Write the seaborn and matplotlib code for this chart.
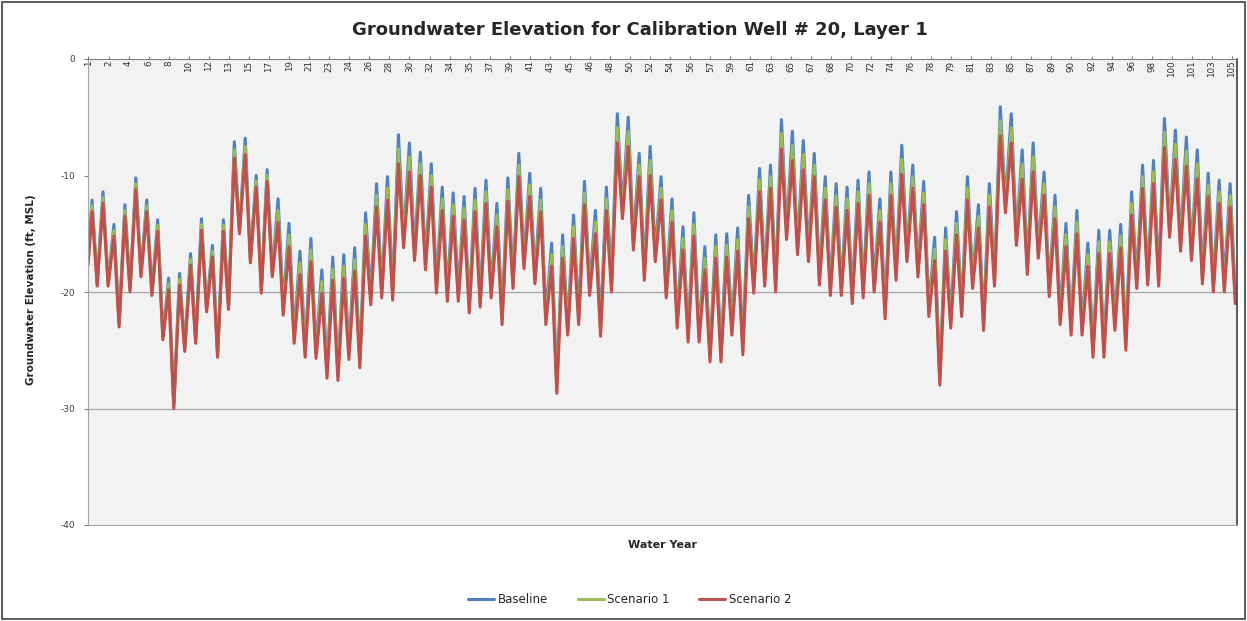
import numpy as np
import pandas as pd
import seaborn as sns
import matplotlib.pyplot as plt
from matplotlib.patches import Rectangle

# groundwater elevation, ft MSL: one high and one low per water year
series_names = ['Baseline', 'Scenario 1', 'Scenario 2']
series_colors = ['#4F81BD', '#9BBB59', '#C0504D']
start_level = [-17.3, -17.5, -17.7]

base_peak = [-12.1, -11.4, -14.2, -12.5, -10.2, -12.1, -13.8, -18.8, -18.4, -16.7,
             -13.7, -16.0, -13.8, -7.1, -6.8, -10.0, -9.5, -12.0, -14.1, -16.5,
             -15.4, -18.1, -17.0, -16.8, -16.2, -13.2, -10.7, -10.1, -6.5, -7.2,
             -8.0, -9.0, -11.0, -11.5, -11.8, -11.1, -10.4, -12.4, -10.2, -8.1,
             -9.8, -11.1, -15.8, -15.1, -13.4, -10.5, -13.0, -11.0, -4.7, -5.0,
             -8.1, -7.5, -10.1, -12.0, -14.4, -13.2, -16.1, -15.1, -15.0, -14.5,
             -11.7, -9.4, -9.1, -5.2, -6.2, -7.0, -8.1, -10.1, -10.7, -11.0,
             -10.4, -9.7, -12.0, -9.7, -7.4, -9.1, -10.5, -15.3, -14.5, -13.1,
             -10.1, -12.5, -10.7, -4.1, -4.7, -7.8, -7.2, -9.7, -11.7, -14.1,
             -13.0, -15.8, -14.7, -14.7, -14.2, -11.4, -9.1, -8.7, -5.1, -6.1,
             -6.7, -7.8, -9.8, -10.4, -10.7]
base_low = [-19.1, -19.1, -22.6, -19.6, -18.3, -19.9, -23.7, -29.6, -24.7, -24.0,
            -21.3, -25.2, -21.1, -14.6, -17.1, -19.7, -18.3, -21.2, -23.6, -24.8,
            -24.9, -26.6, -26.8, -25.0, -25.7, -20.3, -19.7, -19.9, -15.4, -16.5,
            -17.3, -19.3, -20.0, -20.0, -21.0, -20.5, -19.7, -22.0, -18.9, -17.2,
            -18.5, -22.0, -27.9, -22.9, -22.0, -19.5, -23.0, -19.2, -12.9, -15.6,
            -18.2, -16.6, -19.7, -22.3, -23.5, -23.5, -25.2, -25.2, -22.9, -24.6,
            -19.3, -18.7, -19.2, -14.7, -16.0, -16.6, -18.6, -19.5, -19.5, -20.2,
            -19.7, -19.2, -21.5, -18.2, -16.6, -17.9, -21.3, -27.2, -22.3, -21.3,
            -18.9, -22.5, -18.7, -12.4, -15.2, -17.7, -16.3, -19.6, -22.0, -22.9,
            -22.9, -24.8, -24.8, -22.5, -24.2, -18.9, -18.6, -18.7, -14.5, -15.7,
            -16.5, -18.5, -19.2, -19.2, -20.2]

sc1_peak = [-12.6, -11.9, -14.7, -13.0, -10.7, -12.6, -14.3, -19.3, -18.9, -17.2,
            -14.2, -16.5, -14.3, -7.8, -7.5, -10.5, -10.0, -13.0, -15.1, -17.5,
            -16.4, -19.1, -18.0, -17.8, -17.2, -14.2, -11.7, -11.1, -7.7, -8.4,
            -9.0, -10.0, -12.0, -12.5, -12.8, -12.1, -11.4, -13.4, -11.2, -9.1,
            -10.8, -12.1, -16.8, -16.1, -14.4, -11.5, -14.0, -12.0, -5.9, -6.2,
            -9.1, -8.7, -11.1, -13.0, -15.4, -14.2, -17.1, -16.1, -16.0, -15.5,
            -12.7, -10.4, -10.1, -6.4, -7.4, -8.2, -9.1, -11.1, -11.7, -12.0,
            -11.4, -10.7, -13.0, -10.7, -8.6, -10.1, -11.5, -16.3, -15.5, -14.1,
            -11.1, -13.5, -11.7, -5.3, -5.9, -9.0, -8.4, -10.7, -12.7, -15.1,
            -14.0, -16.8, -15.7, -15.7, -15.2, -12.4, -10.1, -9.7, -6.3, -7.3,
            -7.9, -9.0, -10.8, -11.4, -11.7]
sc1_low = [-19.3, -19.3, -22.8, -19.8, -18.5, -20.1, -23.9, -29.8, -24.9, -24.2,
           -21.5, -25.4, -21.3, -14.8, -17.3, -19.9, -18.5, -21.6, -24.0, -25.2,
           -25.3, -27.0, -27.2, -25.4, -26.1, -20.7, -20.1, -20.3, -15.8, -16.9,
           -17.7, -19.7, -20.4, -20.4, -21.4, -20.9, -20.1, -22.4, -19.3, -17.6,
           -18.9, -22.4, -28.3, -23.3, -22.4, -19.9, -23.4, -19.6, -13.3, -16.0,
           -18.6, -17.0, -20.1, -22.7, -23.9, -23.9, -25.6, -25.6, -23.3, -25.0,
           -19.7, -19.1, -19.6, -15.1, -16.4, -17.0, -19.0, -19.9, -19.9, -20.6,
           -20.1, -19.6, -21.9, -18.6, -17.0, -18.3, -21.7, -27.6, -22.7, -21.7,
           -19.3, -22.9, -19.1, -12.8, -15.6, -18.1, -16.7, -20.0, -22.4, -23.3,
           -23.3, -25.2, -25.2, -22.9, -24.6, -19.3, -19.0, -19.1, -14.9, -16.1,
           -16.9, -18.9, -19.6, -19.6, -20.6]

sc2_peak = [-13.1, -12.4, -15.2, -13.5, -11.2, -13.1, -14.8, -19.8, -19.4, -17.7,
            -14.7, -17.0, -14.8, -8.5, -8.2, -11.0, -10.5, -14.0, -16.1, -18.5,
            -17.4, -20.1, -19.0, -18.8, -18.2, -15.2, -12.7, -12.1, -9.0, -9.7,
            -10.0, -11.0, -13.0, -13.5, -13.8, -13.1, -12.4, -14.4, -12.2, -10.1,
            -11.8, -13.1, -17.8, -17.1, -15.4, -12.5, -15.0, -13.0, -7.2, -7.5,
            -10.1, -10.0, -12.1, -14.0, -16.4, -15.2, -18.1, -17.1, -17.0, -16.5,
            -13.7, -11.4, -11.1, -7.7, -8.7, -9.5, -10.1, -12.1, -12.7, -13.0,
            -12.4, -11.7, -14.0, -11.7, -9.9, -11.1, -12.5, -17.3, -16.5, -15.1,
            -12.1, -14.5, -12.7, -6.6, -7.2, -10.3, -9.7, -11.7, -13.7, -16.1,
            -15.0, -17.8, -16.7, -16.7, -16.2, -13.4, -11.1, -10.7, -7.6, -8.6,
            -9.2, -10.3, -11.8, -12.4, -12.7]
sc2_low = [-19.5, -19.5, -23.0, -20.0, -18.7, -20.3, -24.1, -30.0, -25.1, -24.4,
           -21.7, -25.6, -21.5, -15.0, -17.5, -20.1, -18.7, -22.0, -24.4, -25.6,
           -25.7, -27.4, -27.6, -25.8, -26.5, -21.1, -20.5, -20.7, -16.2, -17.3,
           -18.1, -20.1, -20.8, -20.8, -21.8, -21.3, -20.5, -22.8, -19.7, -18.0,
           -19.3, -22.8, -28.7, -23.7, -22.8, -20.3, -23.8, -20.0, -13.7, -16.4,
           -19.0, -17.4, -20.5, -23.1, -24.3, -24.3, -26.0, -26.0, -23.7, -25.4,
           -20.1, -19.5, -20.0, -15.5, -16.8, -17.4, -19.4, -20.3, -20.3, -21.0,
           -20.5, -20.0, -22.3, -19.0, -17.4, -18.7, -22.1, -28.0, -23.1, -22.1,
           -19.7, -23.3, -19.5, -13.2, -16.0, -18.5, -17.1, -20.4, -22.8, -23.7,
           -23.7, -25.6, -25.6, -23.3, -25.0, -19.7, -19.4, -19.5, -15.3, -16.5,
           -17.3, -19.3, -20.0, -20.0, -21.0]

yticks = [0, -10, -20, -30, -40]
label_every = 22  # months between category labels

peaks = [base_peak, sc1_peak, sc2_peak]
lows = [base_low, sc1_low, sc2_low]
n_years = len(base_peak)

rows = []
for name, start, pk, lo in zip(series_names, start_level, peaks, lows):
    rows.append((name, 0.0, start))
    for i in range(n_years):
        rows.append((name, i + 0.37, pk[i]))
        rows.append((name, i + 0.84, lo[i]))
df = pd.DataFrame(rows, columns=['series', 't', 'elev'])

sns.set_style('white')
plt.rcParams['font.family'] = ['DejaVu Sans']

fig = plt.figure(figsize=(12.47, 6.21), dpi=100)
ax = fig.add_axes([88 / 1247, 1 - 525 / 621, 1149 / 1247, 466 / 621])
ax.set_facecolor('#f2f2f2')

ax.axhline(-20, color='#a6a6a6', lw=0.9, zorder=0)
ax.axhline(-30, color='#a6a6a6', lw=0.9, zorder=0)

sns.lineplot(data=df, x='t', y='elev', hue='series', hue_order=series_names,
             palette=series_colors, estimator=None, sort=False, lw=2.2, ax=ax)

ax.set_xlim(0, n_years)
ax.set_ylim(-40, 0)
ax.set_yticks(yticks)
ax.set_yticklabels([str(v) for v in yticks])
ax.tick_params(axis='y', labelsize=6.5, labelcolor='#404040', left=True,
               length=3, color='#808080', pad=6)

months = np.arange(0, n_years * 12, label_every)
ax.set_xticks((months + 0.5) / 12)
ax.set_xticklabels([str(m // 12 + 1) for m in months])
ax.xaxis.set_ticks_position('top')
ax.tick_params(axis='x', top=True, bottom=False, labeltop=True, labelbottom=False,
               labelrotation=90, labelsize=6.3, labelcolor='#303030', length=2,
               color='#808080', pad=-3)
for lbl in ax.get_xticklabels():
    lbl.set_va('top')

for side in ['left', 'bottom']:
    ax.spines[side].set_color('#a6a6a6')
ax.spines['top'].set_color('#808080')
ax.spines['right'].set_color('#404040')
ax.spines['right'].set_linewidth(1.2)

ax.set_xlabel('')
ax.set_ylabel('')
fig.text(0.513, 0.952, 'Groundwater Elevation for Calibration Well # 20, Layer 1',
         ha='center', va='center', fontsize=13, fontweight='bold')
fig.text(0.531, 0.122, 'Water Year', ha='center', va='center', fontsize=8,
         fontweight='bold')
fig.text(0.025, 0.533, 'Groundwater Elevation (ft, MSL)', ha='center', va='center',
         rotation=90, fontsize=7.5, fontweight='bold')

sns.move_legend(ax, 'center', bbox_to_anchor=(0.505, 0.034),
                bbox_transform=fig.transFigure, ncol=3, frameon=False, title=None,
                fontsize=8.5, handlelength=2.2, columnspacing=2.5, handletextpad=0.3)

fig.patches.append(Rectangle((0.002, 0.003), 0.996, 0.994, transform=fig.transFigure,
                             fill=False, edgecolor='#404040', lw=1.2))

fig.savefig('out.png', dpi=100)
